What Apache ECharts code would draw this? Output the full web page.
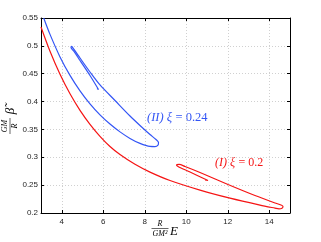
<!DOCTYPE html>
<html><head><meta charset="utf-8">
<script src="https://cdn.jsdelivr.net/npm/echarts@6/dist/echarts.min.js"></script>
<style>html,body{margin:0;padding:0;background:#fff;overflow:hidden}#c{width:321px;height:242px}</style>
</head><body><div id="c"></div>
<script>
// ---- data ----
const xTicks = [4, 6, 8, 10, 12, 14];
const yTicks = [0.2, 0.25, 0.3, 0.35, 0.4, 0.45, 0.5, 0.55];
const xRange = [3, 15];
const yRange = [0.2, 0.55];

// curve (I), xi = 0.2 (red)
const redX = [3.0, 3.434, 3.916, 4.398, 4.880, 5.361, 5.843, 6.325, 6.807, 7.530, 8.253, 9.217, 10.663, 12.108, 13.554, 14.277, 14.470, 14.614, 14.663, 14.566, 14.277, 13.313, 12.012, 10.663, 9.940, 9.651, 9.530, 9.602, 10.181, 11.048, 10.904];
const redY = [0.5339, 0.4903, 0.4490, 0.4140, 0.3843, 0.3592, 0.3377, 0.3194, 0.3050, 0.2874, 0.2734, 0.2583, 0.2411, 0.2266, 0.2142, 0.2088, 0.2075, 0.2086, 0.2117, 0.2144, 0.2180, 0.2314, 0.2512, 0.2727, 0.2835, 0.2871, 0.2862, 0.2835, 0.2736, 0.2583, 0.2592];

// curve (II), xi = 0.24 (blue)
const blueX = [3.130, 3.434, 3.916, 4.398, 4.880, 5.361, 5.843, 6.325, 6.807, 7.289, 7.771, 8.253, 8.494, 8.639, 8.663, 8.542, 8.253, 7.771, 7.289, 6.566, 5.843, 5.361, 4.880, 4.590, 4.470, 4.446, 4.590, 4.880, 5.361, 5.771, 5.699];
const blueY = [0.550, 0.5206, 0.4802, 0.4470, 0.4192, 0.3958, 0.3761, 0.3596, 0.3456, 0.3339, 0.3249, 0.3195, 0.3192, 0.3217, 0.3265, 0.3319, 0.3409, 0.3571, 0.3741, 0.4019, 0.4298, 0.4531, 0.4782, 0.4935, 0.4989, 0.4971, 0.4899, 0.4737, 0.4468, 0.4217, 0.4235];

const curveNames = ['(I) ξ = 0.2', '(II) ξ = 0.24'];

const zip = (a, b) => a.map((v, i) => [v, b[i]]);
const chart = echarts.init(document.getElementById('c'), null, {renderer: 'canvas'});
const tickFont = {fontSize: 8, color: '#262626', fontFamily: 'Liberation Sans'};
const serif = 'Liberation Serif';
const RED = '#f51414', BLUE = '#3355f5';

const gridLine = {show: true, lineStyle: {color: '#c4c4c4', type: [1, 2], width: 0.8}};
const axLine = {show: true, onZero: false, lineStyle: {color: '#000', width: 1}};

chart.setOption({
  animation: false,
  backgroundColor: '#fff',
  grid: {left: 41, right: 31, top: 18, bottom: 29, containLabel: false},
  xAxis: [
    {type: 'value', min: xRange[0], max: xRange[1], position: 'bottom',
     axisLine: axLine,
     axisTick: {show: true, inside: true, length: 3, customValues: xTicks, lineStyle: {color: '#000'}},
     axisLabel: Object.assign({show: true, customValues: xTicks, margin: 5}, tickFont),
     splitLine: gridLine},
    {type: 'value', min: xRange[0], max: xRange[1], position: 'top',
     axisLine: axLine,
     axisTick: {show: true, inside: true, length: 3, customValues: xTicks, lineStyle: {color: '#000'}},
     axisLabel: {show: false}, splitLine: {show: false}}
  ],
  yAxis: [
    {type: 'value', min: yRange[0], max: yRange[1], interval: 0.05, position: 'left',
     axisLine: axLine,
     axisTick: {show: true, inside: true, length: 3, lineStyle: {color: '#000'}},
     axisLabel: Object.assign({show: true, margin: 3, formatter: v => String(+v.toFixed(2))}, tickFont),
     splitLine: gridLine},
    {type: 'value', min: yRange[0], max: yRange[1], interval: 0.05, position: 'right',
     axisLine: axLine,
     axisTick: {show: true, inside: true, length: 3, lineStyle: {color: '#000'}},
     axisLabel: {show: false}, splitLine: {show: false}}
  ],
  series: [
    {name: curveNames[0], type: 'line', data: zip(redX, redY), symbol: 'none', smooth: 0.3, clip: true,
     lineStyle: {color: RED, width: 1.2}},
    {name: curveNames[1], type: 'line', data: zip(blueX, blueY), symbol: 'none', smooth: 0.3, clip: true,
     lineStyle: {color: BLUE, width: 1.2}}
  ],
  graphic: [
    // curve labels
    {type: 'text', left: 147, top: 111, style: {
      text: '{i|(II) ξ} {n|= 0.24}',
      rich: {i: {fontFamily: serif, fontStyle: 'italic', fontSize: 12.5, fill: BLUE},
             n: {fontFamily: serif, fontSize: 12.5, fill: BLUE}}}},
    {type: 'text', left: 215, top: 157, style: {
      text: '{i|(I) ξ} {n|= 0.2}',
      rich: {i: {fontFamily: serif, fontStyle: 'italic', fontSize: 12, fill: RED},
             n: {fontFamily: serif, fontSize: 12, fill: RED}}}},
    // x-axis name: R/(GM^2) E
    {type: 'group', x: 160, y: 231, children: [
      {type: 'text', x: 0, y: -3.5, style: {text: 'R', fontFamily: serif, fontStyle: 'italic', fontSize: 8, fill: '#000', align: 'center', verticalAlign: 'bottom'}},
      {type: 'line', shape: {x1: -8.5, y1: -2.5, x2: 8.5, y2: -2.5}, style: {stroke: '#000', lineWidth: 0.6}},
      {type: 'text', x: 0, y: -1.5, style: {text: 'GM²', fontFamily: serif, fontStyle: 'italic', fontSize: 8, fill: '#000', align: 'center', verticalAlign: 'top'}},
      {type: 'text', x: 14, y: 1, style: {text: 'E', fontFamily: serif, fontStyle: 'italic', fontSize: 13, fill: '#000', align: 'center', verticalAlign: 'middle'}}
    ]},
    // y-axis name: GM/R beta~ (rotated)
    {type: 'group', x: 10, y: 116, rotation: Math.PI / 2, children: [
      {type: 'text', x: -10, y: -1, style: {text: 'GM', fontFamily: serif, fontStyle: 'italic', fontSize: 8, fill: '#000', align: 'center', verticalAlign: 'bottom'}},
      {type: 'line', shape: {x1: -18, y1: 0, x2: -2, y2: 0}, style: {stroke: '#000', lineWidth: 0.6}},
      {type: 'text', x: -10, y: 1, style: {text: 'R', fontFamily: serif, fontStyle: 'italic', fontSize: 8, fill: '#000', align: 'center', verticalAlign: 'top'}},
      {type: 'text', x: 5, y: 1, style: {text: 'β̃', fontFamily: serif, fontStyle: 'italic', fontSize: 13, fill: '#000', align: 'center', verticalAlign: 'middle'}}
    ]}
  ]
});
</script>
</body></html>
